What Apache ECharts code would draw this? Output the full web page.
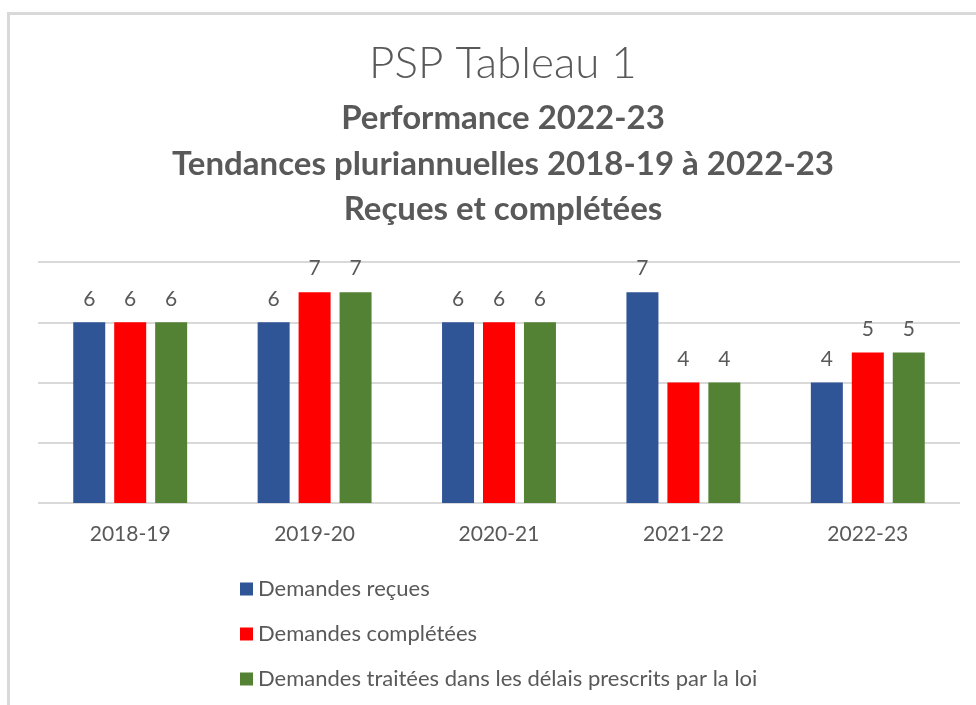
<!DOCTYPE html>
<html>
<head>
<meta charset="utf-8">
<script src="https://cdn.jsdelivr.net/npm/echarts@6/dist/echarts.min.js"></script>
<style>
html,body{margin:0;padding:0;background:#fff;}
#frame{position:absolute;left:7px;top:12px;width:1100px;height:1000px;border-left:3px solid #d9d9d9;border-top:3px solid #d9d9d9;}
#chart{position:absolute;left:0;top:0;width:976px;height:705px;}
</style>
</head>
<body>
<div id="frame"></div>
<div id="chart"></div>
<script>
const categories = ['2018-19', '2019-20', '2020-21', '2021-22', '2022-23'];
const seriesNames = ['Demandes reçues', 'Demandes complétées', 'Demandes traitées dans les délais prescrits par la loi'];
const recues = [6, 6, 6, 7, 4];
const completees = [6, 7, 6, 4, 5];
const traitees = [6, 7, 6, 4, 5];
const yTicks = [0, 2, 4, 6, 8];
const colors = ['#2F5597', '#FF0000', '#548235'];
const titleLines = ['PSP Tableau 1', 'Performance 2022-23', 'Tendances pluriannuelles 2018-19 à 2022-23', 'Reçues et complétées'];

const FONT = 'Lato, "Open Sans", sans-serif';
const TXT = '#595959';
const chart = echarts.init(document.getElementById('chart'));

const labelCfg = {show: true, position: 'top', distance: 13, color: TXT, fontSize: 21, fontFamily: FONT};
const mk = (name, data, i) => ({
  name, type: 'bar', data, barWidth: 32, barGap: '28%',
  itemStyle: {color: colors[i]}, label: labelCfg
});
const sub = (text, top) => ({
  text, left: 498, top, textAlign: 'center',
  textStyle: {fontFamily: FONT, fontSize: 33, fontWeight: 'bold', color: TXT, lineHeight: 38}
});

chart.setOption({
  animation: false,
  title: [
    {text: titleLines[0], left: 498, top: 34, textAlign: 'center',
     textStyle: {fontFamily: FONT, fontSize: 44, fontWeight: 300, color: TXT, lineHeight: 50}},
    sub(titleLines[1], 94),
    sub(titleLines[2], 140),
    sub(titleLines[3], 185)
  ],
  legend: {
    orient: 'vertical', left: 235, top: 573, itemGap: 23,
    itemWidth: 13, itemHeight: 13, icon: 'rect',
    data: seriesNames,
    textStyle: {fontFamily: FONT, fontSize: 22, color: TXT, lineHeight: 22}
  },
  grid: {left: 38, right: 16, top: 262, bottom: 202, containLabel: false},
  xAxis: {
    type: 'category', data: categories,
    axisLine: {show: false}, axisTick: {show: false},
    axisLabel: {color: TXT, fontSize: 21, fontFamily: FONT, margin: 21}
  },
  yAxis: {
    type: 'value', min: yTicks[0], max: yTicks[yTicks.length - 1], interval: 2,
    axisLabel: {show: false}, axisLine: {show: false}, axisTick: {show: false},
    splitLine: {lineStyle: {color: '#d9d9d9', width: 2}}
  },
  series: [mk(seriesNames[0], recues, 0), mk(seriesNames[1], completees, 1), mk(seriesNames[2], traitees, 2)]
});
</script>
</body>
</html>
